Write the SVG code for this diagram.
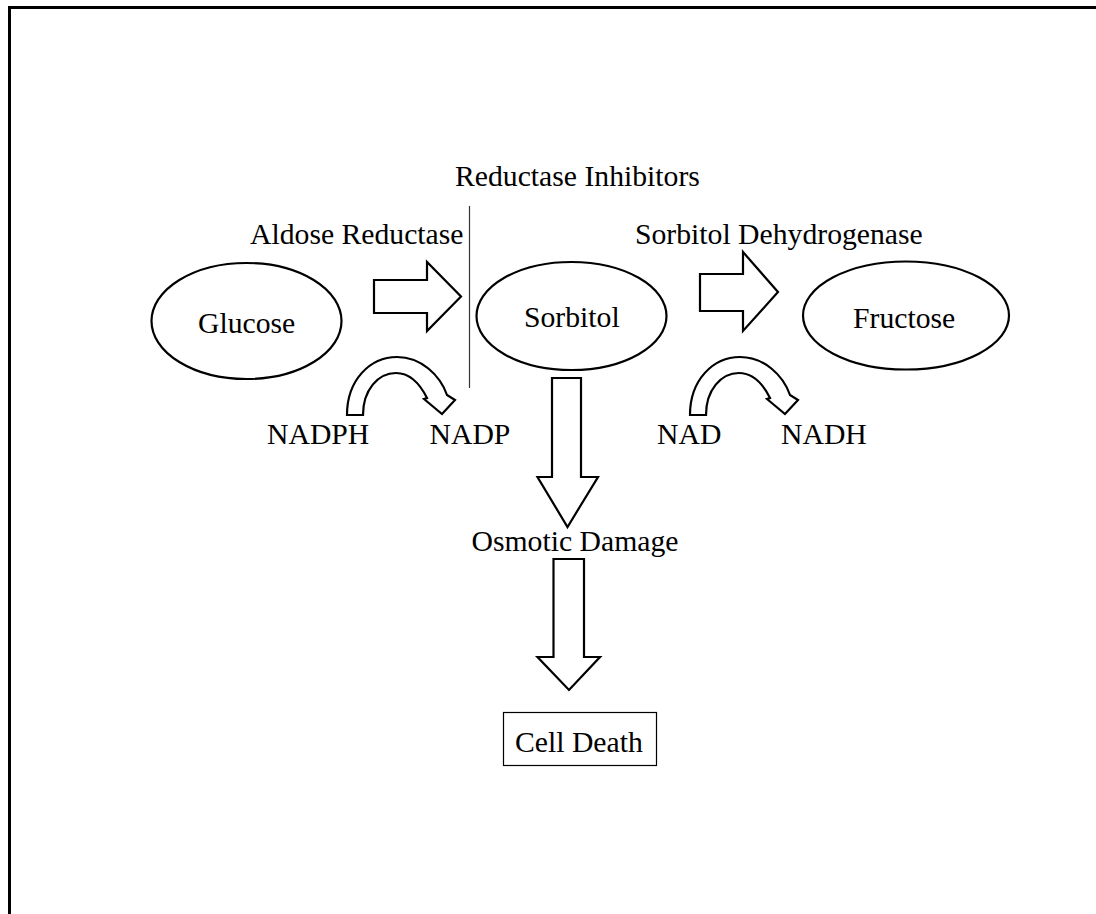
<svg xmlns="http://www.w3.org/2000/svg" xmlns:xlink="http://www.w3.org/1999/xlink" width="1096" height="914" viewBox="0 0 1096 914">
<style>
text{font-family:"Liberation Serif","Times New Roman",serif;font-size:29.7px;fill:#000}
.node{fill:#fff;stroke:#000;stroke-width:2.2}
.blk{fill:#fff;stroke:#000;stroke-width:2.2;stroke-linejoin:miter}
</style>
<defs>
<path id="curv" d="M347,415 C347,380 370,357 397,357 C421,357 440,375 447,395 L455,400 L442,414 L424,399 L427,398 C420,384 410,373 396,373 C378,373 363,390 363,415 Z"/>
</defs>
<rect width="1096" height="914" fill="#fff"/>
<path d="M9.5,914 V7.5 H1096" fill="none" stroke="#000" stroke-width="3"/>
<g id="connectors">
<polygon class="blk" points="374,280 427,280 427,262 461,296.5 427,331 427,313 374,313"/>
<polygon class="blk" points="700,274 743,274 743,252 778,292 743,331 743,311 700,311"/>
<polygon class="blk" points="552,378 581,378 581,477 598,477 567.5,527 537.5,477 552,477"/>
<polygon class="blk" points="553.5,559 584,559 584,657 600,657 569,690 537.5,657 553.5,657"/>
<use xlink:href="#curv" class="blk"/>
<use xlink:href="#curv" class="blk" transform="translate(343,0)"/>
<line x1="469.5" y1="206" x2="469.5" y2="388" stroke="#333" stroke-width="1.2"/>
</g>
<g id="glucose">
<ellipse class="node" cx="246.5" cy="321" rx="95" ry="58"/>
<text x="198" y="333">Glucose</text>
</g>
<g id="sorbitol">
<ellipse class="node" cx="571.5" cy="316" rx="95" ry="54"/>
<text x="524" y="327">Sorbitol</text>
</g>
<g id="fructose">
<ellipse class="node" cx="906" cy="315.5" rx="103" ry="54"/>
<text x="853" y="328">Fructose</text>
</g>
<g id="cell-death">
<rect x="503.5" y="712.5" width="153" height="53" fill="#fff" stroke="#000" stroke-width="1.2"/>
<text x="515" y="752">Cell Death</text>
</g>
<g id="labels">
<text x="455" y="186">Reductase Inhibitors</text>
<text x="250" y="244">Aldose Reductase</text>
<text x="635" y="244">Sorbitol Dehydrogenase</text>
<text x="267" y="444">NADPH</text>
<text x="429.5" y="444">NADP</text>
<text x="657" y="444">NAD</text>
<text x="781" y="444">NADH</text>
<text x="471.5" y="551">Osmotic Damage</text>
</g>
</svg>
